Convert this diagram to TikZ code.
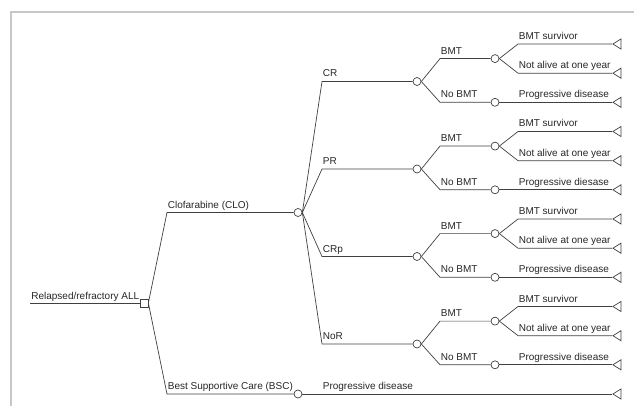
\documentclass[tikz,border=0pt]{standalone}
\usepackage{fontspec}
\setmainfont{Liberation Sans}
\usetikzlibrary{shapes.geometric}

\tikzset{
  chance/.style={draw, circle, fill=white, inner sep=0pt, minimum size=8pt},
  decision/.style={draw, rectangle, fill=white, inner sep=0pt, minimum size=8pt},
  terminal/.style={draw, isosceles triangle, isosceles triangle stretches, shape border rotate=180,
                   inner sep=0pt, minimum width=10pt, minimum height=8pt, anchor=apex},
  lbl/.style={anchor=base west, inner sep=0pt, text=black!85, font=\fontsize{10}{12}\selectfont}
}

\begin{document}
\begin{tikzpicture}[x=1pt, y=-1pt, line width=0.7pt, color=black!75]
    \useasboundingbox (0,0) rectangle (634,406);

    % Window frame
    \draw[line width=2.3pt, black!22] (11.2,406) -- (11.2,12.2) -- (634,12.2);

    % Root and decision
    \coordinate (start) at (30,303);
    \node[decision] (dec) at (144,303) {};
    \draw (start) -- (dec);
    \node[lbl] (rootlbl) at ([xshift=1pt, yshift=4pt]start) {Relapsed/refractory ALL};

    % Treatments
    \coordinate (clo-in) at (167,212.5);
    \coordinate (bsc-in) at (167,394);
    \node[chance] (clo) at (298,212.5) {};
    \node[chance] (bsc) at (298,394) {};
    \draw (dec.east) -- (clo-in) -- (clo);
    \draw (dec.east) -- (bsc-in) -- (bsc);
    \node[lbl] (clolbl) at ([xshift=0.5pt, yshift=4.5pt]clo-in) {Clofarabine (CLO)};
    \node[lbl] (bsclbl) at ([xshift=0.5pt, yshift=4.5pt]bsc-in) {Best Supportive Care (BSC)};

    % Best supportive care outcome
    \coordinate (bsc-p-in) at (322,394);
    \node[terminal] (bsc-p) at (612,394) {};
    \draw (bsc) -- (bsc-p.apex);
    \node[lbl] at ([xshift=0.5pt, yshift=4.5pt]bsc-p-in) {Progressive disease};

    % Responses to clofarabine
    \foreach \g/\name/\resp/\prog in {0/cr/CR/disease, 1/pr/PR/diesase, 2/crp/CRp/disease, 3/nor/NoR/disease} {
      \pgfmathsetmacro\yg{44+87.5*\g}
      \coordinate (\name-in) at (322,\yg+37.5);
      \node[chance] (\name) at (417,\yg+37.5) {};
      \draw (clo.east) -- (\name-in) -- (\name);
      \node[lbl] at ([xshift=0.5pt, yshift=4.5pt]\name-in) {\resp};

      % BMT or not
      \coordinate (\name-b-in) at (440,\yg+14.6);
      \coordinate (\name-n-in) at (440,\yg+58.3);
      \node[chance] (\name-b) at (495,\yg+14.6) {};
      \node[chance] (\name-n) at (495,\yg+58.3) {};
      \draw (\name.east) -- (\name-b-in) -- (\name-b);
      \draw (\name.east) -- (\name-n-in) -- (\name-n);
      \node[lbl] at ([xshift=0.5pt, yshift=4.5pt]\name-b-in) {BMT};
      \node[lbl] at ([xshift=0.5pt, yshift=4.5pt]\name-n-in) {No BMT};

      % Outcomes
      \coordinate (\name-s-in) at (518,\yg);
      \coordinate (\name-d-in) at (518,\yg+29.2);
      \coordinate (\name-p-in) at (518,\yg+58.3);
      \node[terminal] (\name-s) at (612,\yg) {};
      \node[terminal] (\name-d) at (612,\yg+29.2) {};
      \node[terminal] (\name-p) at (612,\yg+58.3) {};
      \draw (\name-b.east) -- (\name-s-in) -- (\name-s.apex);
      \draw (\name-b.east) -- (\name-d-in) -- (\name-d.apex);
      \draw (\name-n) -- (\name-p.apex);
      \node[lbl] at ([xshift=0.5pt, yshift=4.5pt]\name-s-in) {BMT survivor};
      \node[lbl] at ([xshift=0.5pt, yshift=4.5pt]\name-d-in) {Not alive at one year};
      \node[lbl] at ([xshift=0.5pt, yshift=4.5pt]\name-p-in) {Progressive \prog};
    }
\end{tikzpicture}
\end{document}
